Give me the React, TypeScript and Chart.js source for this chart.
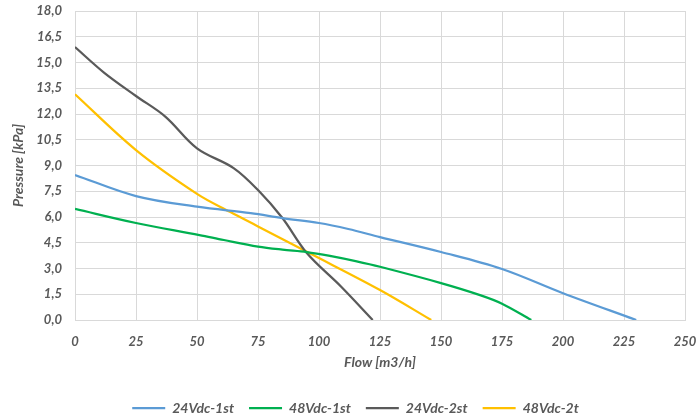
import React, { useEffect, useRef } from "react";
import { Chart, registerables } from "chart.js";

Chart.register(...registerables);

const seriesNames = ["24Vdc-1st", "48Vdc-1st", "24Vdc-2st", "48Vdc-2t"];
const seriesColors = ["#5B9BD5", "#00B050", "#5A5A5A", "#FFC000"];

const flow24_1 = [0, 25, 50, 72, 85, 100, 112, 125, 150, 175, 200, 230];
const pres24_1 = [8.45, 7.22, 6.6, 6.23, 5.94, 5.65, 5.3, 4.83, 3.96, 2.97, 1.56, 0];

const flow48_1 = [0, 25, 51, 61, 75, 85, 95, 105, 115, 125, 150, 166, 175, 187];
const pres48_1 = [6.47, 5.65, 4.95, 4.66, 4.28, 4.1, 3.96, 3.72, 3.43, 3.1, 2.15, 1.45, 0.95, 0];

const flow24_2 = [0, 12, 25, 37, 50, 65, 75, 85, 95, 109, 122];
const pres24_2 = [15.9, 14.4, 13.05, 11.85, 10.0, 8.85, 7.57, 5.94, 3.9, 1.95, 0];

const flow48_2 = [0, 25, 50, 63.5, 75, 96, 125, 146];
const pres48_2 = [13.15, 9.9, 7.35, 6.3, 5.45, 3.9, 1.75, 0];

const xTicks = [0, 25, 50, 75, 100, 125, 150, 175, 200, 225, 250];
const yTicks = [0, 1.5, 3, 4.5, 6, 7.5, 9, 10.5, 12, 13.5, 15, 16.5, 18];

const FONT = "Lato, 'Liberation Sans', sans-serif";
const TEXT = "#595959";

const shiftLegend = {
  id: "shiftLegend",
  afterLayout(chart: any) {
    const lg = chart.legend;
    if (lg) {
      lg.left += 13;
      lg.right += 13;
    }
  },
};

export default function App() {
  const ref = useRef<HTMLCanvasElement | null>(null);

  useEffect(() => {
    if (!ref.current) return;
    const flows = [flow24_1, flow48_1, flow24_2, flow48_2];
    const pres = [pres24_1, pres48_1, pres24_2, pres48_2];
    const datasets = seriesNames.map((name, i) => ({
      label: name,
      data: flows[i].map((x, j) => ({ x, y: pres[i][j] })),
      borderColor: seriesColors[i],
      backgroundColor: seriesColors[i],
      borderWidth: 2.25,
      pointRadius: 0,
      pointStyle: "line" as const,
      tension: 0.35,
      fill: false,
    }));
    const chart = new Chart(ref.current, {
      type: "line",
      data: { datasets },
      plugins: [shiftLegend],
      options: {
        animation: false,
        responsive: false,
        maintainAspectRatio: false,
        layout: { padding: { top: 11, right: 13, left: 0, bottom: -5 } },
        plugins: {
          tooltip: { enabled: false },
          legend: {
            position: "bottom",
            labels: {
              usePointStyle: true,
              pointStyleWidth: 33,
              padding: 15,
              color: TEXT,
              font: { family: FONT, size: 14, style: "italic", weight: "bold" },
            },
          },
        },
        scales: {
          x: {
            type: "linear",
            min: 0,
            max: 250,
            afterBuildTicks: (s: any) => {
              s.ticks = xTicks.map((v) => ({ value: v }));
            },
            afterFit: (s: any) => {
              s.height = 66;
            },
            grid: { color: "#D9D9D9", drawTicks: true, tickLength: 14, tickColor: "rgba(0,0,0,0)", lineWidth: 1 },
            border: { color: "#D9D9D9" },
            ticks: {
              padding: 0,
              color: TEXT,
              font: { family: FONT, size: 13, style: "italic", weight: "bold" },
              callback: (v: any) => String(v),
            },
            title: {
              display: true,
              text: "Flow [m3/h]",
              color: TEXT,
              padding: { top: 0, bottom: 15.6 },
              font: { family: FONT, size: 14, style: "italic", weight: "bold" },
            },
          },
          y: {
            type: "linear",
            min: 0,
            max: 18,
            afterBuildTicks: (s: any) => {
              s.ticks = yTicks.map((v) => ({ value: v }));
            },
            afterFit: (s: any) => {
              s.width = 75;
            },
            grid: { color: "#D9D9D9", drawTicks: true, tickLength: 13, tickColor: "rgba(0,0,0,0)", lineWidth: 1 },
            border: { color: "#D9D9D9" },
            ticks: {
              padding: 0,
              color: TEXT,
              font: { family: FONT, size: 13, style: "italic", weight: "bold" },
              callback: (v: any) => Number(v).toFixed(1).replace(".", ","),
            },
            title: {
              display: true,
              text: "Pressure [kPa]",
              color: TEXT,
              padding: { top: 10.5, bottom: 0 },
              font: { family: FONT, size: 14, style: "italic", weight: "bold" },
            },
          },
        },
      },
    });
    return () => chart.destroy();
  }, []);

  return (
    <div style={{ position: "fixed", left: 0, top: 0, width: 698, height: 420, background: "#fff" }}>
      <canvas ref={ref} width={698} height={420} style={{ width: 698, height: 420 }} />
    </div>
  );
}
